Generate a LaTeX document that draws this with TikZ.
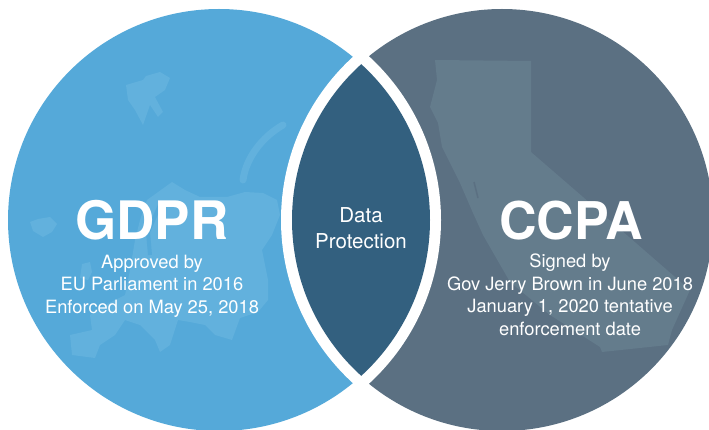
\documentclass[tikz,border=0pt]{standalone}
\usepackage{fontspec}
\setmainfont{TeX Gyre Heros}
\definecolor{GDPRBase}{HTML}{55A9D9}
\definecolor{GDPRLand}{HTML}{62B1DD}
\definecolor{CCPABase}{HTML}{5B7082}
\definecolor{CCPALand}{HTML}{647C8C}
\definecolor{DataBase}{HTML}{33607F}

\begin{document}
\begin{tikzpicture}[
    x=1pt,y=1pt,yscale=-1,
    title/.style = {text=white, inner sep = 0pt, anchor = base, font = \bfseries},
    body/.style  = {text=white, inner sep = 0pt, anchor = base, align = center,
                    font = \fontsize{18.3}{22.4}\selectfont},
  ]
% defining coordinates
\coordinate (CG) at (219,220);
\coordinate (CC) at (502,220);

\useasboundingbox (0,0) rectangle (709,430);

\def\GdprDisc{(CG) circle (211)}
\def\CcpaDisc{(CC) circle (211)}

% land shapes
\def\Svalbard{
     (126,85) -- (143,80) -- (146,76) -- (160,72) -- (170,78) -- (165,90) -- (155,97) -- (163,112) -- (158,117) -- (150,105) -- (143,125) -- (135,110) -- (128,100) -- cycle
    }
\def\Iceland{
     (30,222) -- (38,219) -- (50,217) -- (57,224) -- (52,232) -- (43,237) -- (33,231) -- cycle
    }
\def\Britain{
     (82,264) -- (90,262) -- (92,272) -- (88,280) -- (80,278) -- cycle
    }
\def\Europe{
     (172,182) -- (185,190) -- (200,197) -- (227,197) -- (245,192) -- (263,193) -- (277,200) -- (280,215) -- (272,235) -- (262,250) -- (268,280) -- (268,300) -- (258,312) -- (240,318) -- (232,340) -- (215,335) -- (205,325) -- (190,322) -- (178,320) -- (170,345) -- (160,352) -- (155,340) -- (140,325) -- (125,320) -- (115,335) -- (100,345) -- (95,358) -- (72,355) -- (70,335) -- (92,330) -- (90,315) -- (105,305) -- (125,295) -- (130,270) -- (135,240) -- (140,220) -- (147,200) -- cycle
    }
\def\California{
     (435,60) -- (531,61) -- (531,152) -- (583,197) -- (690,290) -- (672,330) -- (668,345) -- (602,352) -- (600,347) -- (550,315) -- (510,282) -- (483,235) -- (473,213) -- (460,183) -- (442,147) -- (438,123) -- (430,107) -- (437,80) -- cycle
    }

% left disc
\fill[GDPRBase] \GdprDisc;
\begin{scope}
      \clip \GdprDisc;
      \fill[GDPRLand] \Svalbard;
      \fill[GDPRLand] \Iceland;
      \fill[GDPRLand] \Britain;
      \fill[GDPRLand] \Europe;
      \draw[GDPRLand, line width=7pt, line cap=round] (283,125) .. controls (262,137) and (246,158) .. (243,180);
      \draw[GDPRBase, line width=4pt] (160,205) -- (148,232) -- (150,255);
\end{scope}

% right disc
\fill[CCPABase] \CcpaDisc;
\begin{scope}
      \clip \CcpaDisc;
      \fill[CCPALand] \California;
      \draw[CCPABase, line width=1.5pt] (474,182) -- (478,198);
\end{scope}

% white band round the overlap
\begin{scope}
      \clip (CG) circle (222);
      \fill[white] (CC) circle (221);
\end{scope}

% overlap
\begin{scope}
      \clip \GdprDisc;
      \clip (221,220) circle (210);
      \fill[DataBase] (CC) circle (210);
\end{scope}

% labels
\node (gdpr) [title] at (152,240) {\fontsize{53}{53}\selectfont GDPR};
\node (gdprtext) [body] at (152,313) {Approved by\\EU Parliament in 2016\\Enforced on May 25, 2018};

\node (data) [body, font=\fontsize{20.5}{26}\selectfont] at (361,249) {Data\\Protection};

\node (ccpa) [title] at (571,240) {\fontsize{52}{52}\selectfont CCPA};
\node (ccpatext) [body] at (570,335) {Signed by\\Gov Jerry Brown in June 2018\\January 1, 2020 tentative\\enforcement date};

\end{tikzpicture}
\end{document}
